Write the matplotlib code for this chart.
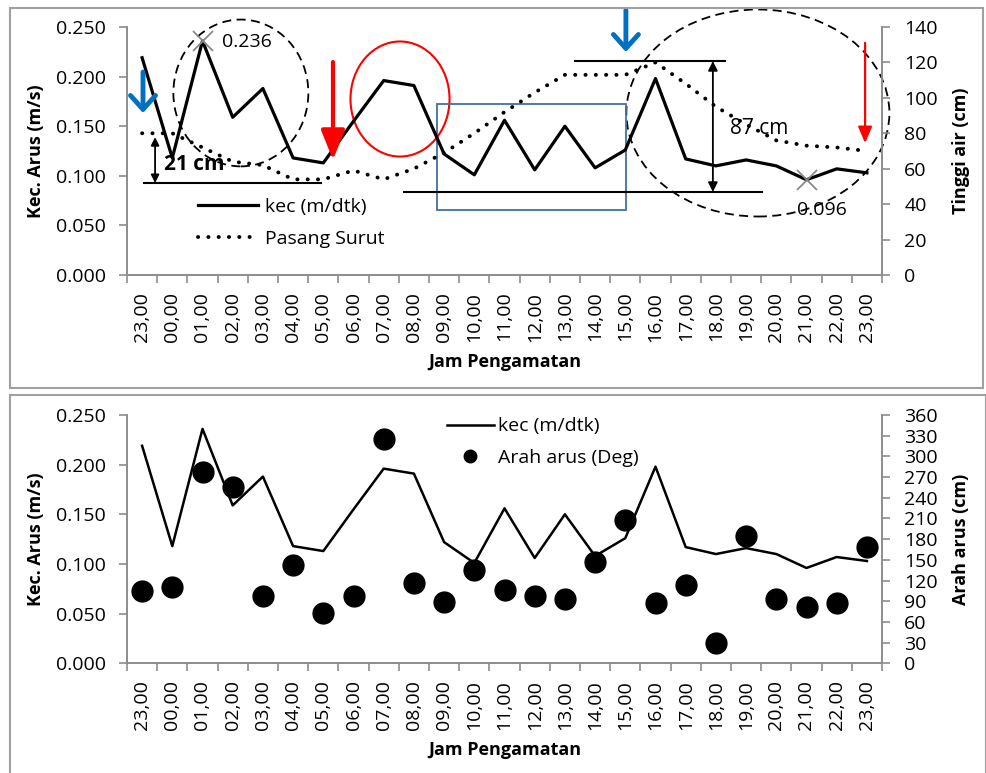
import matplotlib
matplotlib.use("Agg")
from matplotlib import pyplot as plt
from matplotlib.patches import Ellipse, Rectangle
import numpy as np

# jam pengamatan (25 titik)
jam = ['23,00', '00,00', '01,00', '02,00', '03,00', '04,00', '05,00', '06,00',
       '07,00', '08,00', '09,00', '10,00', '11,00', '12,00', '13,00', '14,00',
       '15,00', '16,00', '17,00', '18,00', '19,00', '20,00', '21,00', '22,00', '23,00']
kec = [0.219, 0.118, 0.236, 0.159, 0.188, 0.118, 0.113, 0.155, 0.196, 0.191, 0.122, 0.101,
       0.156, 0.106, 0.150, 0.108, 0.126, 0.198, 0.117, 0.110, 0.116, 0.110, 0.096, 0.107, 0.103]
pasut = [80, 80, 72, 64, 62, 54, 54, 59, 54, 60, 69, 80, 92, 103, 113, 113, 113, 120,
         108, 95, 85, 76, 73, 72, 70]
arah = [105, 111, 278, 255, 98, 143, 73, 98, 325, 117, 89, 135, 106, 97, 93, 147, 208,
        87, 113, 30, 185, 93, 81, 88, 169]

plt.rcParams['font.family'] = ['Open Sans', 'DejaVu Sans']
GREY = '#8c8c8c'
W, H = 986, 773
fig = plt.figure(figsize=(W / 100, H / 100), dpi=100)

x = np.arange(len(jam))


def style_axes(ax, ax2, right_max, right_step, right_label):
    ax.set_xlim(-0.5, len(jam) - 0.5)
    ax.set_ylim(0, 0.25)
    ax.set_yticks(np.arange(0, 0.2501, 0.05))
    ax.set_yticklabels(['%.3f' % v for v in np.arange(0, 0.2501, 0.05)])
    ax.set_xticks(x)
    ax.set_xticklabels(jam, rotation=90)
    ax.set_xticks(np.arange(-0.5, len(jam)), minor=True)
    ax.tick_params(axis='x', which='major', length=0, pad=12, labelsize=14)
    ax.tick_params(axis='x', which='minor', length=6, color=GREY, width=1.2)
    ax.tick_params(axis='y', length=6, color=GREY, width=1.2, pad=9, labelsize=14)
    ax2.set_ylim(0, right_max)
    ax2.set_yticks(np.arange(0, right_max + 1, right_step))
    ax2.tick_params(axis='y', length=6, color=GREY, width=1.2, pad=10, labelsize=14)
    for a in (ax, ax2):
        a.spines['top'].set_visible(False)
        for s in ('left', 'right', 'bottom'):
            a.spines[s].set_color(GREY)
            a.spines[s].set_linewidth(1.2)
    ax.set_ylabel('Kec. Arus (m/s)', fontsize=13, fontweight='bold', labelpad=8)
    ax2.set_ylabel(right_label, fontsize=13, fontweight='bold', labelpad=10)
    ax.set_xlabel('Jam Pengamatan', fontsize=13, fontweight='bold', labelpad=8)


# ---------------- panel atas ----------------
ax = fig.add_axes([127 / W, 1 - 275 / H, 755 / W, 248 / H])
ax2 = ax.twinx()
l1, = ax.plot(x, kec, color='black', lw=2.3, label='kec (m/dtk)')
l2, = ax2.plot(x, pasut, color='black', lw=2.8, ls=(0, (0.05, 2.6)),
               dash_capstyle='round', label='Pasang Surut')
style_axes(ax, ax2, 140, 20, 'Tinggi air (cm)')
ax.legend([l1, l2], ['kec (m/dtk)', 'Pasang Surut'], loc='upper left',
          bbox_to_anchor=(0.094, 0.31), frameon=False, fontsize=14,
          handlelength=3.1, handletextpad=0.35, labelspacing=0.7,
          borderpad=0, borderaxespad=0)

# penanda nilai maks / min
imax = int(np.argmax(kec))
imin = int(np.argmin(kec))
ax.plot([imax, imin], [kec[imax], kec[imin]], ls='none', marker='x',
        ms=15, mew=1.3, color='#888888')
ax.text(2.65, 0.235, '%.3f' % kec[imax], fontsize=14, va='center')
ax.text(21.7, 0.066, '%.3f' % kec[imin], fontsize=14, va='center')

# lingkaran putus-putus
ax.add_patch(Ellipse((3.27, 0.1835), 4.47, 0.148, fill=False, ls=(0, (5, 3)),
                     lw=1.3, color='black', clip_on=False))
ax.add_patch(Ellipse((20.39, 0.1633), 8.71, 0.2087, fill=False, ls=(0, (5, 3)),
                     lw=1.3, color='black', clip_on=False))
ax.add_patch(Ellipse((8.54, 0.1774), 3.28, 0.116, fill=False, lw=1.5,
                     color='red', clip_on=False))
ax.add_patch(Rectangle((9.76, 0.0655), 6.26, 0.1069, fill=False, lw=1.3,
                       color='#41719C', clip_on=False))

# garis rentang pasut
ax.plot([0.06, 5.92], [0.0927, 0.0927], color='black', lw=1.5)
ax.plot([8.67, 20.53], [0.0837, 0.0837], color='black', lw=1.5)
ax.plot([14.33, 19.3], [0.2157, 0.2157], color='black', lw=1.5)
ax.annotate('', xy=(0.43, 0.0927), xytext=(0.43, 0.139),
            arrowprops=dict(arrowstyle='<|-|>', color='black', lw=1.3,
                            mutation_scale=12, shrinkA=0, shrinkB=0))
ax.annotate('', xy=(18.9, 0.0837), xytext=(18.9, 0.2157),
            arrowprops=dict(arrowstyle='<|-|>', color='black', lw=1.3,
                            mutation_scale=14, shrinkA=0, shrinkB=0))
ax.text(0.73, 0.111, '21 cm', fontsize=15, fontweight='bold', va='center')
ax.text(19.47, 0.148, '87 cm', fontsize=15, va='center')

# panah
blue = '#0070C0'
ax.annotate('', xy=(0.03, 0.1633), xytext=(0.03, 0.2046), annotation_clip=False,
            arrowprops=dict(arrowstyle='->, head_length=0.5, head_width=0.45',
                            color=blue, lw=3.5, mutation_scale=20, shrinkA=0, shrinkB=0))
ax.annotate('', xy=(16.02, 0.2248), xytext=(16.02, 0.267), annotation_clip=False,
            arrowprops=dict(arrowstyle='->, head_length=0.5, head_width=0.45',
                            color=blue, lw=3.5, mutation_scale=20, shrinkA=0, shrinkB=0))
ax.annotate('', xy=(6.32, 0.116), xytext=(6.32, 0.2147), annotation_clip=False,
            arrowprops=dict(arrowstyle='-|>, head_length=0.9, head_width=0.36',
                            color='red', lw=3, mutation_scale=20, shrinkA=0, shrinkB=0))
ax.annotate('', xy=(23.94, 0.133), xytext=(23.94, 0.234), annotation_clip=False,
            arrowprops=dict(arrowstyle='-|>, head_length=0.7, head_width=0.3',
                            color='red', lw=1.6, mutation_scale=14, shrinkA=0, shrinkB=0))

# ---------------- panel bawah ----------------
bx = fig.add_axes([127 / W, 1 - 663.3 / H, 755 / W, 248.3 / H])
bx2 = bx.twinx()
m1, = bx.plot(x, kec, color='black', lw=1.8)
m2, = bx2.plot(x, arah, ls='none', marker='o', ms=15, color='black')
style_axes(bx, bx2, 360, 30, 'Arah arus (cm)')
bx.legend([m1, m2], ['kec (m/dtk)', 'Arah arus (Deg)'], loc='upper left',
          bbox_to_anchor=(0.424, 0.99), frameon=False, fontsize=14,
          handlelength=2.4, handletextpad=0.2, labelspacing=0.7, markerscale=0.6,
          borderpad=0, borderaxespad=0)

# bingkai
fig.patches.append(Rectangle((10 / W, 1 - 388 / H), 973 / W, 380 / H, fill=False,
                             transform=fig.transFigure, lw=1.5, edgecolor='#a0a0a0'))
fig.patches.append(Rectangle((10 / W, -0.01), 976 / W, 1 - 395 / H + 0.01, fill=False,
                             transform=fig.transFigure, lw=1.5, edgecolor='#a0a0a0'))

fig.savefig('out.png', dpi=100)
